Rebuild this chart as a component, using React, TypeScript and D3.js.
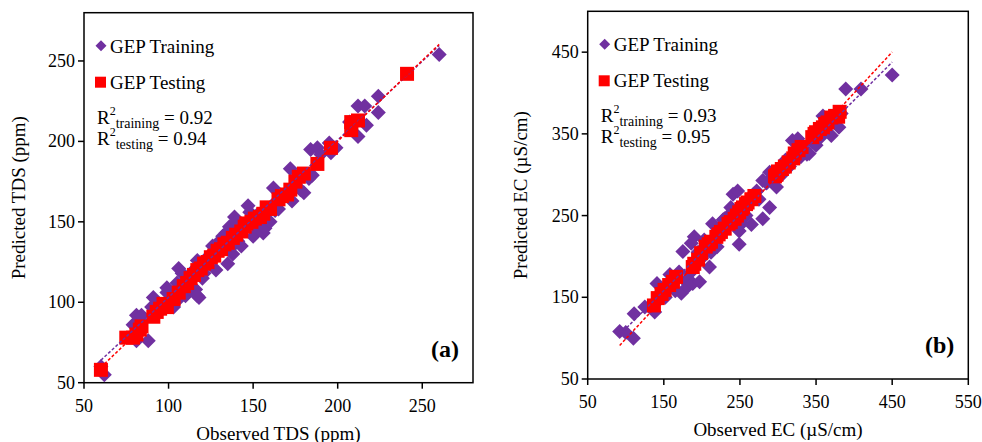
import React from "react";
import * as d3 from "d3";

// ---- Panel (a): TDS ----
const tdsTraining: [number, number][] = [
  [62, 55], [60, 60], [79, 86], [81, 92], [84, 92], [81, 76], [88, 76], [84, 88], [90, 97], [91, 103],
  [93, 100], [96, 98], [99, 106], [99, 109], [103, 97], [105, 101], [105, 112], [106, 121], [108, 118],
  [109, 110], [110, 104], [112, 115], [113, 108], [115, 120], [116, 108], [117, 104], [117, 126],
  [118, 103], [119, 123], [120, 115], [121, 118], [123, 128], [126, 135], [128, 120], [129, 132],
  [130, 138], [131, 137], [132, 141], [134, 143], [135, 124], [136, 147], [137, 134], [138, 130],
  [139, 153], [140, 150], [141, 138], [143, 135], [144, 148], [146, 147], [147, 160], [148, 156],
  [150, 141], [152, 154], [153, 145], [155, 150], [156, 143], [157, 146], [158, 157], [160, 150],
  [161, 160], [162, 171], [163, 157], [165, 158], [168, 166], [170, 168], [172, 183], [173, 163],
  [175, 172], [178, 170], [180, 168], [183, 177], [185, 179], [184, 195], [188, 196], [190, 192],
  [195, 199], [196, 193], [199, 196], [207, 212], [212, 203], [212, 222], [216, 222], [217, 210],
  [224, 228], [224, 218], [260, 254],
];
const tdsTesting: [number, number][] = [
  [60, 58], [75, 78], [79, 78], [81, 80], [83, 83], [84, 85], [91, 91], [93, 94], [95, 96], [97, 99],
  [99, 97], [103, 102], [106, 106], [109, 110], [111, 112], [113, 115], [115, 117], [117, 120],
  [119, 121], [121, 124], [123, 125], [125, 128], [127, 129], [129, 132], [131, 133], [133, 136],
  [135, 137], [138, 140], [140, 142], [143, 144], [145, 147], [146, 149], [149, 150], [151, 152],
  [154, 153], [156, 155], [158, 159], [160, 158], [165, 164], [167, 166], [170, 167], [172, 170],
  [175, 175], [177, 178], [180, 180], [188, 186], [196, 196], [208, 207], [208, 212], [212, 213],
  [241, 242],
];
// linear trend [slope, intercept]
const tdsTrainingFit = [0.978, 5.3];
const tdsTestingFit = [1.0035, -0.6];
const tdsTicks = [50, 100, 150, 200, 250];
const tdsR2 = ["0.92", "0.94"];

// ---- Panel (b): EC ----
const ecTraining: [number, number][] = [
  [92, 108], [100, 107], [110, 100], [111, 130], [125, 138], [138, 132], [141, 167], [145, 148],
  [152, 150], [158, 178], [160, 165], [165, 158], [170, 181], [173, 155], [175, 206], [178, 170],
  [181, 163], [185, 180], [186, 216], [188, 167], [190, 224], [195, 205], [197, 169], [200, 198],
  [203, 220], [205, 210], [210, 187], [212, 205], [214, 240], [218, 220], [220, 212], [222, 230],
  [225, 228], [228, 245], [230, 246], [232, 235], [235, 250], [238, 260], [241, 276], [244, 245],
  [247, 280], [249, 231], [249, 215], [252, 240], [255, 262], [258, 250], [262, 270], [265, 239],
  [268, 276], [272, 280], [275, 270], [280, 293], [280, 246], [285, 290], [289, 260], [289, 303],
  [295, 300], [298, 285], [300, 296], [305, 300], [310, 318], [315, 310], [319, 342], [322, 320],
  [326, 344], [330, 322], [338, 325], [341, 326], [345, 340], [350, 336], [355, 345], [359, 372],
  [365, 362], [370, 348], [375, 365], [380, 358], [383, 375], [389, 405], [409, 405], [450, 422],
];
const ecTesting: [number, number][] = [
  [137, 140], [142, 149], [147, 154], [151, 159], [157, 165], [162, 169], [166, 175], [188, 187],
  [190, 191], [195, 196], [199, 204], [205, 212], [209, 215], [212, 218], [219, 224], [222, 227],
  [225, 230], [230, 234], [235, 240], [238, 242], [243, 246], [246, 250], [249, 254], [252, 258],
  [254, 260], [258, 264], [260, 266], [265, 270], [269, 274], [296, 298], [298, 300], [300, 304],
  [305, 307], [309, 310], [314, 315], [320, 320], [322, 326], [327, 330], [331, 334], [345, 346],
  [348, 350], [350, 352], [355, 356], [359, 358], [362, 362], [365, 364], [370, 370], [375, 372],
  [379, 371], [381, 377],
];
const ecTrainingFit = [0.932, 18.4];
const ecTestingFit = [1.003, -1.2];
const ecXTicks = [50, 150, 250, 350, 450, 550];
const ecYTicks = [50, 150, 250, 350, 450];
const ecR2 = ["0.93", "0.95"];

const PURPLE = "#7030A0";
const RED = "#FF0000";
const FONT = "'Liberation Serif', 'Times New Roman', serif";

type PanelProps = {
  left: number; right: number; top: number; bottom: number;
  xDomain: [number, number]; yDomain: [number, number];
  xTicks: number[]; yTicks: number[];
  training: [number, number][]; testing: [number, number][];
  trainFit: number[]; testFit: number[];
  r2: string[];
  xTitle: string; yTitle: string; tag: string;
  yTitleX: number; xTitleY: number;
};

function diamond(cx: number, cy: number, r: number) {
  return `M${cx},${cy - r}L${cx + r},${cy}L${cx},${cy + r}L${cx - r},${cy}Z`;
}

function R2Label({ x, y, sub, value }: { x: number; y: number; sub: string; value: string }) {
  return (
    <text x={x} y={y} fontSize={19}>
      R<tspan fontSize={12} dy={-9}>2</tspan>
      <tspan fontSize={14} dy={13}>{sub}</tspan>
      <tspan dy={-4}> = {value}</tspan>
    </text>
  );
}

function Panel(p: PanelProps) {
  const x = d3.scaleLinear().domain(p.xDomain).range([p.left, p.right]);
  const y = d3.scaleLinear().domain(p.yDomain).range([p.bottom, p.top]);
  const all = [...p.training, ...p.testing];
  const [x0, x1] = d3.extent(all, (d) => d[0]) as [number, number];
  const fitPath = (fit: number[]) =>
    d3.line<number>()
      .x((v) => x(v))
      .y((v) => y(fit[0] * v + fit[1]))([x0, x1]) as string;
  const lx = p.left + 17;
  const fs = 19;
  return (
    <g fontFamily={FONT} fill="#000">
      {/* plot frame */}
      <rect x={p.left} y={p.top} width={p.right - p.left} height={p.bottom - p.top}
        fill="none" stroke="#000" strokeWidth={1.5} />
      {/* x ticks */}
      {p.xTicks.map((t) => (
        <g key={"x" + t}>
          <line x1={x(t)} x2={x(t)} y1={p.bottom} y2={p.bottom + 6} stroke="#000" strokeWidth={1.5} />
          <text x={x(t)} y={p.bottom + 29} textAnchor="middle" fontSize={18}>{t}</text>
        </g>
      ))}
      {/* y ticks */}
      {p.yTicks.map((t) => (
        <g key={"y" + t}>
          <line x1={p.left - 6} x2={p.left} y1={y(t)} y2={y(t)} stroke="#000" strokeWidth={1.5} />
          <text x={p.left - 9} y={y(t) + 6} textAnchor="end" fontSize={18}>{t}</text>
        </g>
      ))}
      {/* points */}
      {p.training.map((d, i) => (
        <path key={"tr" + i} d={diamond(x(d[0]), y(d[1]), 7.5)} fill={PURPLE} />
      ))}
      {p.testing.map((d, i) => (
        <rect key={"te" + i} x={x(d[0]) - 7} y={y(d[1]) - 7} width={14} height={14} fill={RED} />
      ))}
      {/* trend lines */}
      <path d={fitPath(p.trainFit)} stroke={PURPLE} strokeWidth={1.5} strokeDasharray="3,2" fill="none" />
      <path d={fitPath(p.testFit)} stroke={RED} strokeWidth={1.5} strokeDasharray="3,2" fill="none" />
      {/* legend */}
      <path d={diamond(lx, p.top + 33, 5.5)} fill={PURPLE} />
      <text x={lx + 9} y={p.top + 40} fontSize={fs}>GEP Training</text>
      <rect x={lx - 6} y={p.top + 64} width={11} height={11} fill={RED} />
      <text x={lx + 9} y={p.top + 76} fontSize={fs}>GEP Testing</text>
      <R2Label x={lx - 4} y={p.top + 111} sub="training" value={p.r2[0]} />
      <R2Label x={lx - 4} y={p.top + 132} sub="testing" value={p.r2[1]} />
      {/* panel tag */}
      <text x={p.right - 14} y={p.bottom - 26} textAnchor="end" fontSize={24} fontWeight="bold">{p.tag}</text>
      {/* axis titles */}
      <text x={(p.left + p.right) / 2} y={p.xTitleY} textAnchor="middle" fontSize={fs}>{p.xTitle}</text>
      <text transform={`translate(${p.yTitleX},${(p.top + p.bottom) / 2}) rotate(-90)`}
        textAnchor="middle" fontSize={fs}>{p.yTitle}</text>
    </g>
  );
}

export default function App() {
  return (
    <svg width={982} height={442} style={{ position: "absolute", left: 0, top: 0, background: "#fff" }}>
      <rect width={982} height={442} fill="#fff" />
      <Panel left={84} right={473} top={12.7} bottom={382.7}
        xDomain={[50, 280]} yDomain={[50, 280]} xTicks={tdsTicks} yTicks={tdsTicks}
        training={tdsTraining} testing={tdsTesting}
        trainFit={tdsTrainingFit} testFit={tdsTestingFit} r2={tdsR2}
        xTitle="Observed TDS (ppm)" yTitle="Predicted TDS (ppm)" tag="(a)"
        yTitleX={25} xTitleY={440} />
      <Panel left={587.7} right={968.3} top={11.3} bottom={379}
        xDomain={[50, 550]} yDomain={[50, 500]} xTicks={ecXTicks} yTicks={ecYTicks}
        training={ecTraining} testing={ecTesting}
        trainFit={ecTrainingFit} testFit={ecTestingFit} r2={ecR2}
        xTitle="Observed EC (µS/cm)" yTitle="Predicted EC (µS/cm)" tag="(b)"
        yTitleX={527} xTitleY={436} />
    </svg>
  );
}
